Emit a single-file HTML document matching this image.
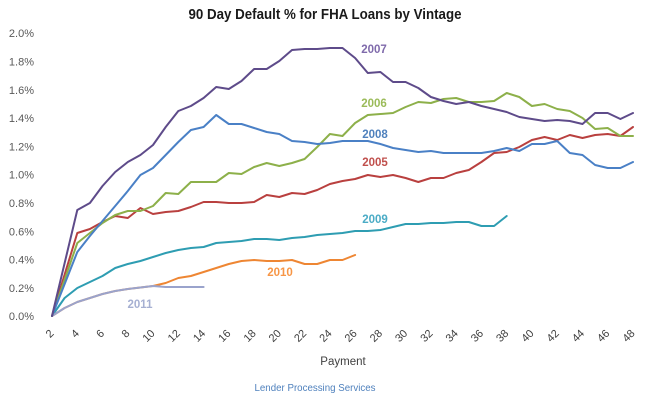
<!DOCTYPE html>
<html><head><meta charset="utf-8"><style>
html,body{margin:0;padding:0;background:#fff;}
svg{display:block;}
text{font-family:"Liberation Sans",sans-serif;}
</style></head><body>
<svg width="650" height="403" viewBox="0 0 650 403" xmlns="http://www.w3.org/2000/svg">
<rect width="650" height="403" fill="#fff"/>
<text x="325" y="19" text-anchor="middle" font-size="14.5" font-weight="bold" fill="#1a1a1a" textLength="273" lengthAdjust="spacingAndGlyphs">90 Day Default % for FHA Loans by Vintage</text>
<g font-size="11" fill="#595959" text-anchor="end">
<text x="34" y="37">2.0%</text>
<text x="34" y="65.5">1.8%</text>
<text x="34" y="93.8">1.6%</text>
<text x="34" y="122">1.4%</text>
<text x="34" y="150.4">1.2%</text>
<text x="34" y="178.7">1.0%</text>
<text x="34" y="207">0.8%</text>
<text x="34" y="235.3">0.6%</text>
<text x="34" y="263.6">0.4%</text>
<text x="34" y="291.9">0.2%</text>
<text x="34" y="320.2">0.0%</text>
</g>
<g font-size="11" fill="#404040" text-anchor="end">
<text transform="translate(54.5,334) rotate(-45)">2</text>
<text transform="translate(79.8,334) rotate(-45)">4</text>
<text transform="translate(105,334) rotate(-45)">6</text>
<text transform="translate(130.3,334) rotate(-45)">8</text>
<text transform="translate(155.5,334) rotate(-45)">10</text>
<text transform="translate(180.8,334) rotate(-45)">12</text>
<text transform="translate(206.1,334) rotate(-45)">14</text>
<text transform="translate(231.3,334) rotate(-45)">16</text>
<text transform="translate(256.6,334) rotate(-45)">18</text>
<text transform="translate(281.8,334) rotate(-45)">20</text>
<text transform="translate(307.1,334) rotate(-45)">22</text>
<text transform="translate(332.4,334) rotate(-45)">24</text>
<text transform="translate(357.6,334) rotate(-45)">26</text>
<text transform="translate(382.9,334) rotate(-45)">28</text>
<text transform="translate(408.1,334) rotate(-45)">30</text>
<text transform="translate(433.4,334) rotate(-45)">32</text>
<text transform="translate(458.7,334) rotate(-45)">34</text>
<text transform="translate(483.9,334) rotate(-45)">36</text>
<text transform="translate(509.2,334) rotate(-45)">38</text>
<text transform="translate(534.4,334) rotate(-45)">40</text>
<text transform="translate(559.7,334) rotate(-45)">42</text>
<text transform="translate(585,334) rotate(-45)">44</text>
<text transform="translate(610.2,334) rotate(-45)">46</text>
<text transform="translate(635.5,334) rotate(-45)">48</text>
</g>
<text x="343" y="365" text-anchor="middle" font-size="11.5" fill="#404040">Payment</text>
<text x="315" y="391" text-anchor="middle" font-size="10" fill="#4F81BD" textLength="121" lengthAdjust="spacingAndGlyphs">Lender Processing Services</text>

<g fill="none" stroke-width="2" stroke-linejoin="round" stroke-linecap="round">
<!-- 2009 teal -->
<polyline stroke="#2E9DB2" points="52,316 64.6,298 77.3,288 89.9,282 102.5,276 115.2,268 127.8,264 140.4,261 153,257 165.7,253 178.3,250 190.9,248 203.6,247 216.2,243 228.8,242 241.5,241 254.1,239 266.7,239 279.3,240 292,238 304.6,237 317.2,235 329.9,234 342.5,233 355.1,231 367.8,231 380.4,230 393,227 405.6,224 418.3,224 430.9,223 443.5,223 456.2,222 468.8,222 481.4,226 494.1,226 506.7,216"/>
<!-- 2010 orange -->
<polyline stroke="#EE8633" points="52,316 64.6,308 77.3,302 89.9,298 102.5,294 115.2,291 127.8,289 140.4,287.5 153,286 165.7,283 178.3,278 190.9,276 203.6,272 216.2,268 228.8,264 241.5,261 254.1,260 266.7,261 279.3,261 292,260 304.6,264 317.2,264 329.9,260 342.5,260 355.1,255"/>
<!-- 2011 lavender -->
<polyline stroke="#9AA3CC" points="52,316 64.6,308 77.3,302 89.9,298 102.5,294 115.2,291 127.8,289 140.4,287.5 153,286 165.7,287 178.3,287 190.9,287 203.6,287"/>
<!-- 2005 red -->
<polyline stroke="#B9403F" points="52,316 77.3,233 89.9,229 102.5,222 115.2,216 127.8,218 140.4,208 153,214 165.7,212 178.3,211 190.9,207 203.6,202 216.2,202 228.8,203 241.5,203 254.1,202 266.7,195 279.3,197 292,193 304.6,194 317.2,190 329.9,184 342.5,181 355.1,179 367.8,175 380.4,177 393,175 405.6,178 418.3,182 430.9,178 443.5,178 456.2,173 468.8,170 481.4,162 494.1,153 506.7,152 519.3,147 531.9,140 544.6,137 557.2,140 569.8,135 582.5,138 595.1,135 607.7,134 620.4,136 633,127"/>
<!-- 2006 green -->
<polyline stroke="#8DB04A" points="52,316 77.3,243 89.9,233 102.5,223 115.2,215 127.8,211 140.4,211 153,206 165.7,193 178.3,194 190.9,182 203.6,182 216.2,182 228.8,173 241.5,174 254.1,167 266.7,163 279.3,166 292,163 304.6,159 317.2,147 329.9,134 342.5,136 355.1,123 367.8,115 380.4,114 393,113 405.6,107 418.3,102 430.9,103 443.5,99 456.2,98 468.8,102 481.4,102 494.1,101 506.7,93 519.3,97 531.9,106 544.6,104 557.2,109 569.8,111 582.5,118 595.1,129 607.7,128 620.4,136 633,136"/>
<!-- 2008 blue -->
<polyline stroke="#4A80C6" points="52,316 77.3,252 89.9,236 102.5,221 115.2,206 127.8,191 140.4,175 153,168 165.7,155 178.3,142 190.9,130 203.6,127 216.2,115 228.8,124 241.5,124 254.1,128 266.7,132 279.3,134 292,141 304.6,142 317.2,144 329.9,143 342.5,141 355.1,141 367.8,141 380.4,144 393,148 405.6,150 418.3,152 430.9,151 443.5,153 456.2,153 468.8,153 481.4,153 494.1,151 506.7,148 519.3,151 531.9,144 544.6,144 557.2,141 569.8,153 582.5,155 595.1,165 607.7,168 620.4,168 633,162"/>
<!-- 2007 purple -->
<polyline stroke="#5E4B8A" points="52,316 77.3,210 89.9,203 102.5,186 115.2,172 127.8,162 140.4,155 153,145 165.7,127 178.3,111 190.9,106 203.6,98 216.2,87 228.8,89 241.5,81 254.1,69 266.7,69 279.3,61 292,50 304.6,49 317.2,49 329.9,48 342.5,48 355.1,58 367.8,73 380.4,72 393,82 405.6,82 418.3,88 430.9,97 443.5,101 456.2,104 468.8,102 481.4,106 494.1,109 506.7,112 519.3,117 531.9,119 544.6,121 557.2,120 569.8,121 582.5,124 595.1,113 607.7,113 620.4,119 633,113"/>
</g>

<g font-size="11.5" font-weight="bold">
<text x="374" y="53" text-anchor="middle" fill="#7F6AAB">2007</text>
<text x="374" y="107" text-anchor="middle" fill="#9BBB59">2006</text>
<text x="375" y="138" text-anchor="middle" fill="#4F81BD">2008</text>
<text x="375" y="166" text-anchor="middle" fill="#C0504D">2005</text>
<text x="375" y="223" text-anchor="middle" fill="#4BACC6">2009</text>
<text x="280" y="276" text-anchor="middle" fill="#F79646">2010</text>
<text x="140" y="308" text-anchor="middle" fill="#A6B0D2">2011</text>
</g>
</svg>
</body></html>
